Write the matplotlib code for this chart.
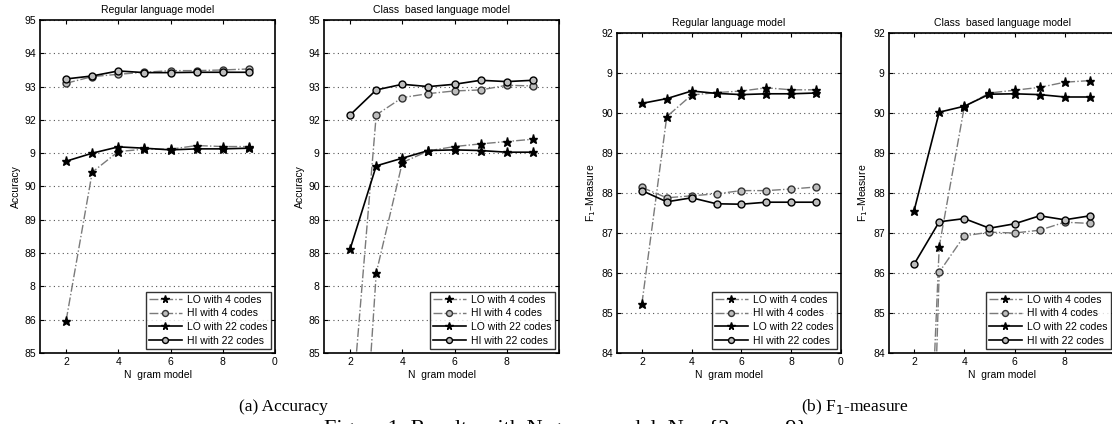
import numpy as np
import matplotlib.pyplot as plt

plt.rcParams['font.family'] = ['Liberation Sans', 'DejaVu Sans']

n = [2, 3, 4, 5, 6, 7, 8, 9]

# accuracy, regular language model
acc_reg_lo4 = [85.97, 90.43, 91.05, 91.12, 91.12, 91.23, 91.2, 91.2]
acc_reg_hi4 = [93.1, 93.3, 93.37, 93.43, 93.48, 93.48, 93.5, 93.53]
acc_reg_lo22 = [90.76, 91.0, 91.19, 91.15, 91.1, 91.13, 91.13, 91.15]
acc_reg_hi22 = [93.23, 93.32, 93.47, 93.42, 93.42, 93.43, 93.43, 93.43]

# accuracy, class based language model
acc_cls_lo4 = [75.4, 87.4, 90.72, 91.07, 91.2, 91.28, 91.35, 91.42]
acc_cls_hi4 = [82.7, 92.15, 92.67, 92.79, 92.87, 92.9, 93.04, 93.02]
acc_cls_lo22 = [88.12, 90.62, 90.85, 91.08, 91.1, 91.08, 91.03, 91.03]
acc_cls_hi22 = [92.15, 92.9, 93.07, 93.0, 93.07, 93.19, 93.15, 93.19]

# F1, regular language model
f1_reg_lo4 = [85.23, 89.91, 90.45, 90.51, 90.55, 90.63, 90.58, 90.58]
f1_reg_hi4 = [88.14, 87.88, 87.93, 87.98, 88.06, 88.06, 88.1, 88.15]
f1_reg_lo22 = [90.24, 90.36, 90.55, 90.49, 90.46, 90.48, 90.48, 90.5]
f1_reg_hi22 = [88.06, 87.78, 87.88, 87.73, 87.72, 87.77, 87.77, 87.77]

# F1, class based language model
f1_cls_lo4 = [72.0, 86.66, 90.16, 90.5, 90.57, 90.64, 90.77, 90.81]
f1_cls_hi4 = [66.0, 86.02, 86.93, 87.02, 87.0, 87.07, 87.27, 87.24]
f1_cls_lo22 = [87.56, 90.02, 90.17, 90.47, 90.48, 90.46, 90.4, 90.4]
f1_cls_hi22 = [86.22, 87.28, 87.36, 87.12, 87.23, 87.43, 87.33, 87.43]

labels = ["LO with 4 codes", "HI with 4 codes", "LO with 22 codes", "HI with 22 codes"]

acc_ticks = [85, 86, 87, 88, 89, 90, 91, 92, 93, 94, 95]
acc_ticklabels = ['85', '86', '8', '88', '89', '90', '9', '92', '93', '94', '95']
f1_ticks = [84, 85, 86, 87, 88, 89, 90, 91, 92]
f1_ticklabels = ['84', '85', '86', '87', '88', '89', '90', '9', '92']
x_ticks = [2, 4, 6, 8, 10]
x_ticklabels = ['2', '4', '6', '8', '0']
x_ticklabels_cut = ['2', '4', '6', '8', '']

W, H = 1112, 424
fig = plt.figure(figsize=(W / 100, H / 100), dpi=100)


def panel(rect, series, title, ylabel, yticks, yticklabels, xticklabels):
    ax = fig.add_axes(rect)
    lo4, hi4, lo22, hi22 = series
    gray = '#7a7a7a'
    ax.plot(n, lo4, '-.', color=gray, lw=1.0, marker='*', ms=6.5,
            mfc='black', mec='black', label=labels[0])
    ax.plot(n, hi4, '-.', color=gray, lw=1.0, marker='o', ms=5,
            mfc='#bdbdbd', mec='#333333', mew=1.0, label=labels[1])
    ax.plot(n, lo22, '-', color='black', lw=1.2, marker='*', ms=6.5,
            mfc='black', mec='black', label=labels[2])
    ax.plot(n, hi22, '-', color='black', lw=1.2, marker='o', ms=5,
            mfc='#bdbdbd', mec='black', mew=1.0, label=labels[3])
    ax.set_xlim(1, 10)
    ax.set_ylim(yticks[0], yticks[-1])
    ax.set_xticks(x_ticks)
    ax.set_xticklabels(xticklabels)
    ax.set_yticks(yticks)
    ax.set_yticklabels(yticklabels)
    ax.tick_params(direction='in', top=True, right=True, labelsize=7.5,
                   length=3, width=0.8, pad=3)
    ax.yaxis.grid(True, linestyle=(0, (1, 3)), color='#555555', lw=0.8)
    for s in ax.spines.values():
        s.set_linewidth(1.2)
    ax.set_title(title, fontsize=7.5, pad=5)
    ax.set_ylabel(ylabel, fontsize=7.5, labelpad=2)
    ax.set_xlabel("N  gram model", fontsize=7.5, labelpad=2)
    leg = ax.legend(loc='lower right', fontsize=7.5, frameon=True, fancybox=False,
                    edgecolor='black', handlelength=3.2, labelspacing=0.35,
                    borderpad=0.3, borderaxespad=0.4, handletextpad=0.5,
                    markerscale=0.85)
    leg.get_frame().set_linewidth(1.0)
    return ax


panel([40 / W, 1 - 353 / H, 235 / W, 333 / H],
      (acc_reg_lo4, acc_reg_hi4, acc_reg_lo22, acc_reg_hi22),
      "Regular language model", "Accuracy", acc_ticks, acc_ticklabels, x_ticklabels)
panel([324 / W, 1 - 353 / H, 235 / W, 333 / H],
      (acc_cls_lo4, acc_cls_hi4, acc_cls_lo22, acc_cls_hi22),
      "Class  based language model", "Accuracy", acc_ticks, acc_ticklabels,
      x_ticklabels_cut)
panel([617 / W, 1 - 353 / H, 224 / W, 320 / H],
      (f1_reg_lo4, f1_reg_hi4, f1_reg_lo22, f1_reg_hi22),
      "Regular language model", "F$_1$\u2013Measure", f1_ticks, f1_ticklabels,
      x_ticklabels)
panel([889 / W, 1 - 353 / H, 226 / W, 320 / H],
      (f1_cls_lo4, f1_cls_hi4, f1_cls_lo22, f1_cls_hi22),
      "Class  based language model", "F$_1$\u2013Measure", f1_ticks, f1_ticklabels,
      x_ticklabels_cut)

serif = ['Liberation Serif', 'DejaVu Serif']
fig.text(283 / W, 1 - 407 / H, "(a) Accuracy", fontsize=12.5, family=serif,
         ha='center', va='center')
fig.text(855 / W, 1 - 407 / H, "(b) F$_1$-measure", fontsize=12.5, family=serif,
         ha='center', va='center')
# caption line cut by the bottom edge, as in the source image
fig.text(566 / W, 1 - 434 / H, "Figure 1: Results with N-gram model, N = {2, . . . , 9}",
         fontsize=16, family=serif, ha='center', va='baseline')

fig.savefig("out.png", dpi=100)
